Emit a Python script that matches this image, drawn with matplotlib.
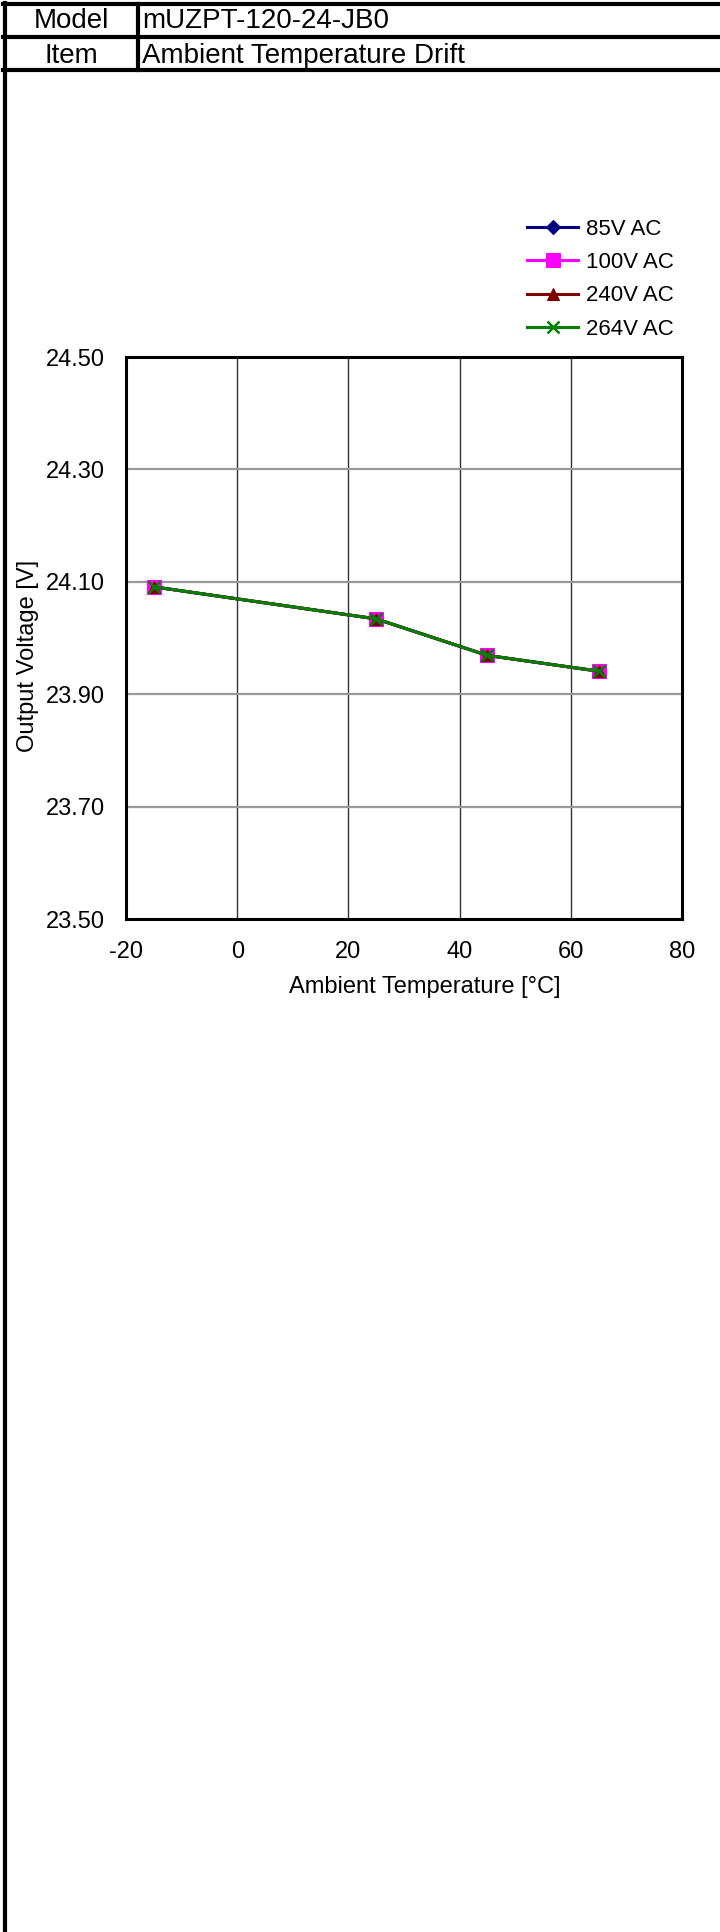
#!/usr/bin/env python3

import matplotlib
matplotlib.use("Agg")
import matplotlib.pyplot as plt
from matplotlib.lines import Line2D

plt.rcParams["font.family"] = ["Liberation Sans", "DejaVu Sans"]
plt.rcParams["axes.unicode_minus"] = False

MODEL = "mUZPT-120-24-JB0"
ITEM = "Ambient Temperature Drift"

TEMPS = [-15, 25, 45, 65]
V_85 = [24.091, 24.034, 23.969, 23.941]
V_100 = [24.091, 24.034, 23.969, 23.941]
V_240 = [24.091, 24.034, 23.969, 23.941]
V_264 = [24.091, 24.034, 23.969, 23.941]

SERIES = [
    ("85V AC", V_85, "#000080", "D", 7),
    ("100V AC", V_100, "#FF00FF", "s", 10),
    ("240V AC", V_240, "#800000", "^", 9),
    ("264V AC", V_264, "#008000", "x", 9),
]

XTICKS = [-20, 0, 20, 40, 60, 80]
YTICKS = [23.50, 23.70, 23.90, 24.10, 24.30, 24.50]

W, H = 720, 1932


def fx(px):
    return px / W


def fy(py):
    return 1 - py / H


fig = plt.figure(figsize=(W / 100, H / 100), dpi=100)

# frame / header table
lw_frame = 3.0
fig.add_artist(Line2D([fx(4.5), fx(4.5)], [fy(3), fy(H)], color="black", lw=lw_frame))
for yy in (4.3, 37, 70):
    fig.add_artist(Line2D([fx(3), 1], [fy(yy), fy(yy)], color="black", lw=lw_frame))
fig.add_artist(Line2D([fx(137.7), fx(137.7)], [fy(4), fy(70)], color="black", lw=lw_frame))

fig.text(fx(71), fy(28), "Model", ha="center", va="baseline", fontsize=20)
fig.text(fx(71), fy(63), "Item", ha="center", va="baseline", fontsize=20)
fig.text(fx(142), fy(28), MODEL, ha="left", va="baseline", fontsize=20)
fig.text(fx(142), fy(63), ITEM, ha="left", va="baseline", fontsize=20)

# chart
ax = fig.add_axes([fx(126), fy(919), fx(682) - fx(126), fy(357) - fy(919)])

for label, vals, color, marker, ms in SERIES:
    ax.plot(TEMPS, vals, color=color, lw=2.2, marker=marker, markersize=ms,
            markeredgewidth=1.8 if marker == "x" else 0.8,
            markeredgecolor=color, label=label)

ax.set_xlim(-20, 80)
ax.set_ylim(23.50, 24.50)
ax.set_xticks(XTICKS)
ax.set_yticks(YTICKS)
ax.set_yticklabels([f"{v:.2f}" for v in YTICKS])

for x in XTICKS[1:-1]:
    ax.axvline(x, color="#333333", lw=1.0, zorder=0)
for y in YTICKS[1:-1]:
    ax.axhline(y, color="#999999", lw=1.6, zorder=0)

for sp in ax.spines.values():
    sp.set_linewidth(2.2)
    sp.set_color("black")

ax.tick_params(axis="both", length=0, labelsize=17)
ax.tick_params(axis="x", pad=16)
ax.tick_params(axis="y", pad=15)

fig.text(fx(424.5), fy(987), "Ambient Temperature [°C]", ha="center", va="center", fontsize=17)
fig.text(fx(28), fy(656), "Output Voltage [V]", ha="center", va="center",
         rotation=90, fontsize=17)

ax.legend(loc="center left", bbox_to_anchor=(fx(527), fy(279.3)),
          bbox_transform=fig.transFigure, frameon=False, fontsize=16,
          handlelength=2.3, handletextpad=0.35, labelspacing=0.55,
          borderpad=0, borderaxespad=0)

fig.savefig("out.png", dpi=100)
